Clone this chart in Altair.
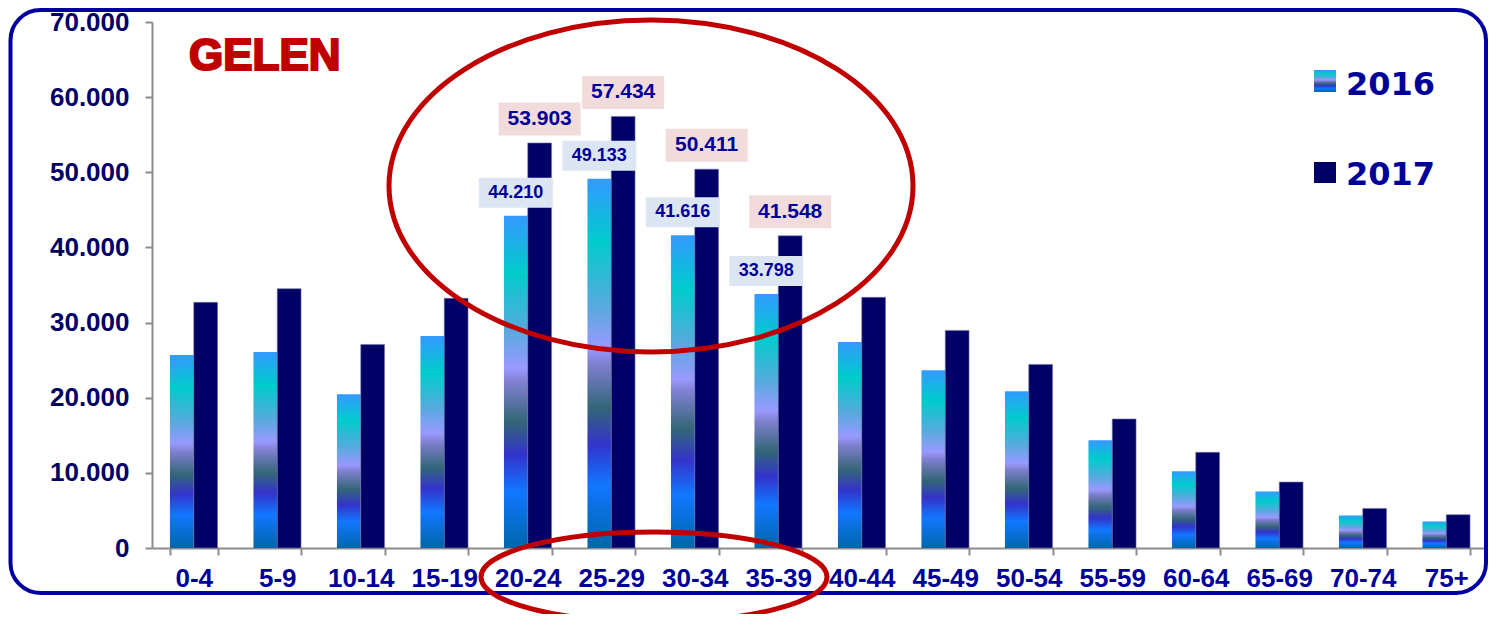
import altair as alt
import pandas as pd

# ---------------- data ----------------
ages = ["0-4", "5-9", "10-14", "15-19", "20-24", "25-29", "30-34", "35-39",
        "40-44", "45-49", "50-54", "55-59", "60-64", "65-69", "70-74", "75+"]
v2016 = [25670, 26100, 20470, 28200, 44210, 49133, 41616, 33798,
         27400, 23670, 20870, 14330, 10200, 7530, 4330, 3530]
v2017 = [32690, 34510, 27090, 33230, 53903, 57434, 50411, 41548,
         33360, 28960, 24430, 17170, 12730, 8770, 5270, 4430]
years = ["2016", "2017"]
labeled_ages = ["20-24", "25-29", "30-34", "35-39"]
title_text = "GELEN"
y_ticks = [0, 10000, 20000, 30000, 40000, 50000, 60000, 70000]


def tr(v):
    return f"{v:,}".replace(",", ".")


rows = []
for a, a16, a17 in zip(ages, v2016, v2017):
    rows.append({"age": a, "year": "2016", "value": a16, "label": tr(a16)})
    rows.append({"age": a, "year": "2017", "value": a17, "label": tr(a17)})
df = pd.DataFrame(rows)
lab = df[df["age"].isin(labeled_ages)]
lab16 = lab[lab["year"] == "2016"]
lab17 = lab[lab["year"] == "2017"]
d16 = df[df["year"] == "2016"]
d17 = df[df["year"] == "2017"]
one = pd.DataFrame({"k": [0]})

# ---------------- styles ----------------
FONT = "Liberation Sans"
NAVY = "#000066"
BLUE = "#000099"
RED = "#c00000"
GRAY = "#8c8c8c"

grad = alt.Gradient(
    gradient="linear", x1=0, x2=0, y1=0, y2=1,
    stops=[
        alt.GradientStop(color="#3399ff", offset=0.0),
        alt.GradientStop(color="#00cccc", offset=0.17),
        alt.GradientStop(color="#55aadd", offset=0.34),
        alt.GradientStop(color="#9999ff", offset=0.46),
        alt.GradientStop(color="#8080d0", offset=0.50),
        alt.GradientStop(color="#336677", offset=0.62),
        alt.GradientStop(color="#3333cc", offset=0.72),
        alt.GradientStop(color="#1177ff", offset=0.83),
        alt.GradientStop(color="#0066aa", offset=1.0),
    ],
)

x_enc = alt.X(
    "age:N", sort=ages,
    scale=alt.Scale(domain=ages, paddingInner=0.43, paddingOuter=0.215),
    axis=alt.Axis(title=None, labelAngle=0, labelFont=FONT, labelFontSize=26,
                  labelFontWeight="bold", labelColor=BLUE, domainColor=GRAY,
                  domainWidth=2, tickColor=GRAY, tickWidth=2, tickSize=7,
                  tickBand="extent", labelPadding=10),
)
y_enc = alt.Y(
    "value:Q",
    scale=alt.Scale(domain=[0, 70000], nice=False),
    axis=alt.Axis(title=None, values=y_ticks, grid=False,
                  labelExpr="replace(format(datum.value, ','), ',', '.')",
                  labelFont=FONT, labelFontSize=26, labelFontWeight="bold",
                  labelColor=NAVY, domainColor=GRAY, domainWidth=2,
                  tickColor=GRAY, tickWidth=2, tickSize=7, labelPadding=16),
)
xo_enc = alt.XOffset("year:N", scale=alt.Scale(domain=years, paddingInner=0, paddingOuter=0))


def ell_path(r):
    k = 0.5523
    return (f"M-1,0 C-1,{-k*r:.4f} {-k:.4f},{-r:.4f} 0,{-r:.4f} "
            f"C{k:.4f},{-r:.4f} 1,{-k*r:.4f} 1,0 "
            f"C1,{k*r:.4f} {k:.4f},{r:.4f} 0,{r:.4f} "
            f"C{-k:.4f},{r:.4f} -1,{k*r:.4f} -1,0 Z")


def rect_path(r):
    return f"M-1,{-r:.4f} L1,{-r:.4f} L1,{r:.4f} L-1,{r:.4f} Z"


# ---------------- layers ----------------
frame = alt.Chart(one).mark_rect(filled=False, stroke="#0000a0", strokeWidth=4,
                                 cornerRadius=30).encode(
    x=alt.value(-141.5), x2=alt.value(1334), y=alt.value(-12), y2=alt.value(571))

bars16 = alt.Chart(d16).mark_bar(color=grad).encode(x=x_enc, xOffset=xo_enc, y=y_enc)
bars17 = alt.Chart(d17).mark_bar(color=NAVY, stroke="#7777aa", strokeWidth=0.6).encode(
    x=x_enc, xOffset=xo_enc, y=y_enc)

box16 = alt.Chart(lab16).mark_point(shape=rect_path(15 / 37), size=74 ** 2, filled=True,
                                    color="#dce6f2", opacity=1, strokeWidth=0,
                                    yOffset=-23).encode(x=x_enc, xOffset=xo_enc, y=y_enc)
box17 = alt.Chart(lab17).mark_point(shape=rect_path(16.5 / 41), size=82 ** 2, filled=True,
                                    color="#f2dcdb", opacity=1, strokeWidth=0,
                                    yOffset=-24).encode(x=x_enc, xOffset=xo_enc, y=y_enc)
txt16 = alt.Chart(lab16).mark_text(font=FONT, fontSize=18, fontWeight="bold", color=BLUE,
                                   baseline="middle", dy=-23).encode(
    x=x_enc, xOffset=xo_enc, y=y_enc, text="label:N")
txt17 = alt.Chart(lab17).mark_text(font=FONT, fontSize=21, fontWeight="bold", color=BLUE,
                                   baseline="middle", dy=-24).encode(
    x=x_enc, xOffset=xo_enc, y=y_enc, text="label:N")

ell_big = alt.Chart(one).mark_point(shape=ell_path(332 / 524), size=524 ** 2, filled=False,
                                    stroke=RED, strokeWidth=5, opacity=1).encode(
    x=alt.value(499), y=alt.value(164))
ell_small = alt.Chart(one).mark_point(shape=ell_path(90 / 346), size=346 ** 2, filled=False,
                                      stroke=RED, strokeWidth=5, opacity=1).encode(
    x=alt.value(502), y=alt.value(555))

title = alt.Chart(one).mark_text(font=FONT, fontSize=44, fontWeight="bold", color=RED,
                                 stroke=RED, strokeWidth=2.2, align="left",
                                 baseline="alphabetic").encode(
    x=alt.value(37), y=alt.value(48), text=alt.value(title_text))

leg_r16 = alt.Chart(one).mark_rect(color=grad).encode(
    x=alt.value(1162), x2=alt.value(1184), y=alt.value(48), y2=alt.value(70))
leg_r17 = alt.Chart(one).mark_rect(color=NAVY).encode(
    x=alt.value(1162), x2=alt.value(1184), y=alt.value(140), y2=alt.value(161))
leg_t16 = alt.Chart(one).mark_text(font="DejaVu Sans", fontSize=32, fontWeight="bold",
                                   color=BLUE, align="left", baseline="alphabetic").encode(
    x=alt.value(1194), y=alt.value(73), text=alt.value(years[0]))
leg_t17 = alt.Chart(one).mark_text(font="DejaVu Sans", fontSize=32, fontWeight="bold",
                                   color=BLUE, align="left", baseline="alphabetic").encode(
    x=alt.value(1194), y=alt.value(163), text=alt.value(years[1]))

chart = alt.layer(
    frame, bars16, bars17, box16, box17, txt16, txt17,
    ell_big, ell_small, title, leg_r16, leg_r17, leg_t16, leg_t17,
).properties(
    width=1336, height=526,
    padding={"left": 144, "top": 14, "right": 0, "bottom": 66},
    autosize=alt.AutoSizeParams(type="none"),
    background="white",
).configure_view(stroke=None)

chart.save("out.html", embed_options={"renderer": "svg", "actions": False})
